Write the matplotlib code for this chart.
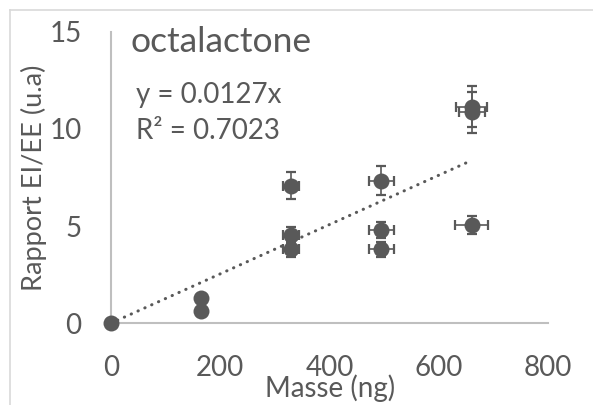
import matplotlib
matplotlib.use("Agg")
import matplotlib.pyplot as plt
from matplotlib.lines import Line2D
import numpy as np

# Measured ratios versus injected mass
masse = [0, 165, 165, 330, 330, 330, 495, 495, 495, 660, 660, 660]
rapport = [0, 1.29, 0.62, 7.08, 4.55, 3.80, 7.34, 4.80, 3.80, 5.06, 11.15, 10.85]
err_y = [0, 0, 0, 0.70, 0.40, 0.40, 0.73, 0.43, 0.40, 0.48, 1.05, 1.05]
err_x = [0, 0, 0, 15, 15, 15, 23, 23, 23, 30, 28, 24]

slope = 0.0127
r2 = 0.7023
x_ticks = [0, 200, 400, 600, 800]
y_ticks = [0, 5, 10, 15]

grey = "#595959"
axis_grey = "#bfbfbf"
plt.rcParams["font.family"] = ["Lato", "DejaVu Sans"]

W, H = 593, 405
fig = plt.figure(figsize=(W / 100, H / 100), dpi=100)
ax = fig.add_axes([110.7 / W, (H - 323.3) / H, 437.6 / W, 291.6 / H])

# chart-area frame
fig.add_artist(Line2D([10 / W, 1], [1 - 10 / H, 1 - 10 / H], color="#d9d9d9", lw=1.2))
fig.add_artist(Line2D([10 / W, 10 / W], [0, 1 - 10 / H], color="#d9d9d9", lw=1.2))

# error bars only where a spread was measured, markers drawn on top
mx = np.array(masse, dtype=float)
my = np.array(rapport, dtype=float)
ex = np.array(err_x, dtype=float)
ey = np.array(err_y, dtype=float)
has_err = (ex > 0) | (ey > 0)
ax.errorbar(mx[has_err], my[has_err], yerr=ey[has_err], xerr=ex[has_err],
            fmt="none", ecolor=grey, elinewidth=1.2, capsize=3.6,
            capthick=1.6, clip_on=False, zorder=3)
ax.plot(mx, my, "o", color=grey, markersize=11.5,
        markeredgewidth=0, clip_on=False, zorder=4)

xt = np.array([0, mx.max()])
ax.plot(xt, slope * xt, linestyle=(0, (0.1, 2.35)), dash_capstyle="round",
        color=grey, lw=2.2, zorder=2)

ax.set_xlim(0, 800)
ax.set_ylim(0, 15)
ax.set_xticks(x_ticks)
ax.set_yticks(y_ticks)
ax.tick_params(length=0, labelsize=20, colors=grey)
ax.tick_params(axis="x", pad=23)
ax.tick_params(axis="y", pad=21)
for s in ["top", "right"]:
    ax.spines[s].set_visible(False)
for s in ["left", "bottom"]:
    ax.spines[s].set_color(axis_grey)
    ax.spines[s].set_linewidth(1.5)

# axis titles
fig.text(330 / W, 1 - 397 / H, "Masse (ng)", fontsize=20, color=grey,
         ha="center", va="baseline")
fig.text(34 / W, 1 - 178 / H, "Rapport EI/EE (u.a)", fontsize=19.5,
         color=grey, ha="center", va="center", rotation=90)

fig.text(131 / W, 1 - 52 / H, "octalactone", fontsize=25.5, color=grey)
fig.text(136 / W, 1 - 103 / H, f"y = {slope}x", fontsize=20, color=grey)
fig.text(136 / W, 1 - 139 / H, f"R² = {r2}", fontsize=20, color=grey)

fig.savefig("out.png", dpi=100)
